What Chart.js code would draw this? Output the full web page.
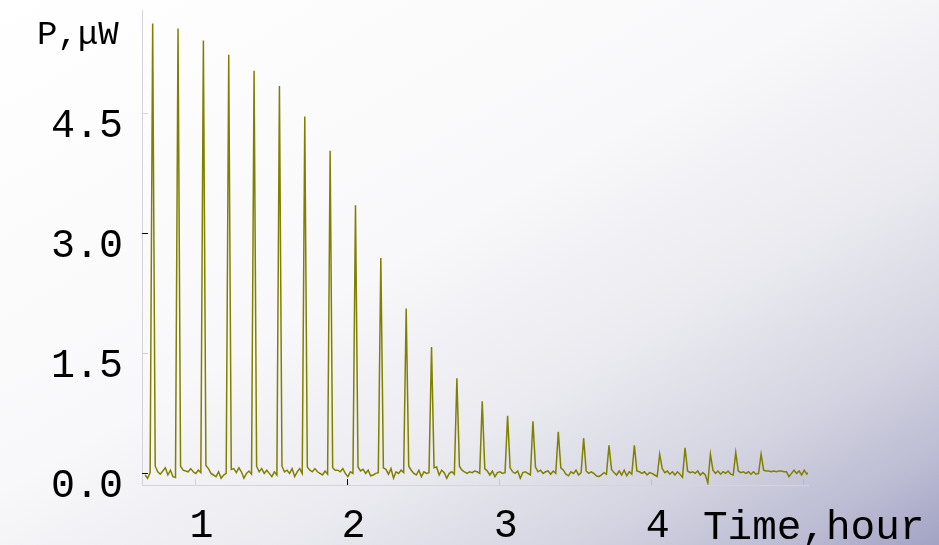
<!DOCTYPE html>
<html>
<head>
<meta charset="utf-8">
<script src="https://cdn.jsdelivr.net/npm/chart.js@4"></script>
<style>
  html, body { margin: 0; padding: 0; background: #ffffff; }
  canvas { display: block; }
</style>
</head>
<body>
<canvas id="chart" width="939" height="545"></canvas>
<script>
// Output power of the cell, one sample per minute, the first one at minute 40.3.
const firstSampleMinute = 40.3;

const power040to099 = [
  -0.02, -0.06, 0.01, 5.62, 0.09, 0.02, -0.01, 0.03, 0.07, -0.02,
  0.04, -0.04, -0.05, 5.56, 0.09, 0.04, 0.03, 0.02, 0.06, 0.02,
  0.00, 0.04, 0.01, 5.41, 0.10, 0.06, 0.00, -0.02, -0.04, 0.02,
  -0.06, -0.02, 0.00, 5.23, 0.05, 0.06, 0.01, 0.07, 0.02, -0.06,
  0.00, 0.03, -0.01, 5.03, 0.09, 0.02, 0.06, 0.00, 0.04, 0.00,
  -0.04, 0.02, -0.02, 4.84, 0.09, 0.02, 0.04, 0.00, 0.06, -0.04
];
const power100to159 = [
  0.02, 0.06, 0.00, 4.46, 0.08, 0.04, 0.02, 0.06, 0.02, 0.00,
  -0.02, 0.03, -0.01, 4.03, 0.07, 0.04, 0.04, 0.02, 0.06, 0.00,
  -0.04, 0.02, 0.00, 3.35, 0.08, 0.03, 0.05, 0.00, 0.04, -0.03,
  -0.02, 0.00, 0.01, 2.69, 0.07, 0.05, -0.01, 0.06, -0.06, 0.02,
  0.00, 0.04, 0.01, 2.06, 0.09, 0.04, 0.00, -0.02, 0.04, -0.04,
  0.02, 0.00, 0.01, 1.58, 0.07, 0.08, -0.02, 0.04, 0.01, -0.06
];
const power160to219 = [
  0.00, 0.02, -0.01, 1.19, 0.09, 0.04, 0.02, 0.00, 0.02, 0.01,
  0.03, 0.02, 0.00, 0.90, 0.06, 0.03, -0.02, 0.03, -0.04, 0.01,
  0.02, 0.00, 0.01, 0.72, 0.07, 0.02, 0.00, 0.03, -0.06, 0.01,
  0.02, 0.00, -0.02, 0.65, 0.08, 0.02, 0.04, 0.00, 0.02, 0.03,
  -0.01, 0.03, 0.00, 0.52, 0.07, 0.04, -0.01, -0.03, 0.02, 0.00,
  0.04, -0.02, 0.01, 0.44, 0.03, 0.00, 0.02, 0.00, -0.03, -0.04
];
const power220to279 = [
  -0.02, 0.01, -0.01, 0.35, 0.05, 0.01, -0.02, 0.03, -0.02, 0.04,
  -0.03, 0.02, -0.01, 0.35, 0.03, 0.02, 0.00, 0.02, -0.02, 0.01,
  0.00, -0.02, -0.04, 0.24, 0.06, 0.01, 0.03, -0.01, 0.02, -0.02,
  0.02, -0.01, -0.05, 0.32, 0.03, 0.01, 0.02, 0.00, 0.03, -0.02,
  0.01, -0.02, -0.12, 0.24, 0.04, 0.00, 0.03, -0.01, 0.02, 0.00,
  0.03, -0.01, -0.02, 0.26, 0.03, 0.01, 0.02, 0.00, 0.02, -0.01
];
const power280to302 = [
  0.02, -0.01, 0.00, 0.24, 0.04, 0.03, 0.03, 0.02, 0.03, 0.02,
  0.03, 0.03, 0.02, 0.02, -0.04, 0.00, 0.04, 0.00, 0.03, -0.02,
  0.04, -0.01, 0.02
];

const yTickValues = [0, 1.5, 3.0, 4.5];
const xTickValues = [1, 2, 3, 4];
const xTickMarkValues = [1, 2, 3, 4, 5];
const yAxisTitle = 'P,\u03bcW';
const xAxisTitle = 'Time,hour';

const powerSeries = [].concat(power040to099, power100to159, power160to219, power220to279, power280to302);
const points = powerSeries.map((p, i) => ({ x: (firstSampleMinute + i) / 60, y: p }));

const FONT = '"Liberation Mono", "Courier New", monospace';
Chart.defaults.font.family = FONT;

// Soft white-to-lavender backdrop
const backdrop = {
  id: 'backdrop',
  beforeDraw(chart) {
    const { ctx, width, height } = chart;
    const g = ctx.createLinearGradient(0, 0, 473, 815);
    g.addColorStop(0.00, '#ffffff');
    g.addColorStop(0.45, '#f8f8fa');
    g.addColorStop(0.65, '#eaeaf0');
    g.addColorStop(0.80, '#d5d5e2');
    g.addColorStop(0.92, '#bbbbd3');
    g.addColorStop(1.00, '#a2a2c4');
    ctx.save();
    ctx.fillStyle = g;
    ctx.fillRect(0, 0, width, height);
    ctx.restore();
  }
};

// Inward tick marks and the two axis captions
const axisDecor = {
  id: 'axisDecor',
  afterDraw(chart) {
    const { ctx, chartArea, scales: { x, y } } = chart;
    const yShade = { 0: '#000000', 1.5: '#d2d2d6', 3: '#000000', 4.5: '#d8d8dc' };
    const xShade = { 1: '#d0d0d6', 2: '#000000', 3: '#c8c8d0', 4: '#c0c0cc', 5: '#b8b8c8' };
    ctx.save();
    ctx.lineWidth = 1;
    yTickValues.forEach(v => {
      const py = Math.floor(y.getPixelForValue(v)) + 0.5;
      ctx.strokeStyle = yShade[v];
      ctx.beginPath();
      ctx.moveTo(chartArea.left, py);
      ctx.lineTo(chartArea.left + 6, py);
      ctx.stroke();
    });
    xTickMarkValues.forEach(v => {
      const px = Math.floor(x.getPixelForValue(v)) + 0.5;
      ctx.strokeStyle = xShade[v];
      ctx.beginPath();
      ctx.moveTo(px, chartArea.bottom);
      ctx.lineTo(px, chartArea.bottom - 6);
      ctx.stroke();
    });
    ctx.fillStyle = '#000000';
    ctx.textBaseline = 'alphabetic';
    ctx.textAlign = 'left';
    ctx.font = '34px ' + FONT;
    ctx.fillText(yAxisTitle, 37, 43.5);
    ctx.font = '41px ' + FONT;
    ctx.fillText(xAxisTitle, 703, 538.5);
    ctx.restore();
  }
};

new Chart(document.getElementById('chart'), {
  type: 'line',
  data: {
    datasets: [{
      data: points,
      borderColor: '#808000',
      borderWidth: 1.5,
      pointRadius: 0,
      tension: 0,
      fill: false
    }]
  },
  options: {
    responsive: false,
    animation: false,
    events: [],
    layout: { padding: { top: 10, right: 131, left: 0, bottom: 0 } },
    plugins: { legend: { display: false }, tooltip: { enabled: false } },
    scales: {
      x: {
        type: 'linear',
        min: 0.6515,
        max: 5.03,
        afterBuildTicks: s => { s.ticks = xTickValues.map(v => ({ value: v })); },
        afterFit: s => { s.height = 60; s.paddingLeft = 0; s.paddingRight = 0; },
        grid: { display: false, drawTicks: false },
        border: { display: true, color: '#d4d4da', width: 1 },
        ticks: {
          padding: 21,
          labelOffset: 6.5,
          maxRotation: 0,
          autoSkip: false,
          color: '#000000',
          font: { size: 40, lineHeight: 1 },
          callback: v => String(v)
        }
      },
      y: {
        type: 'linear',
        min: -0.145,
        max: 5.79,
        afterBuildTicks: s => { s.ticks = yTickValues.map(v => ({ value: v })); },
        afterFit: s => { s.width = 142; s.paddingTop = 0; s.paddingBottom = 0; },
        grid: { display: false, drawTicks: false },
        border: { display: true, color: '#d4d4da', width: 1 },
        ticks: {
          padding: 19,
          labelOffset: 13.5,
          autoSkip: false,
          color: '#000000',
          font: { size: 40, lineHeight: 1 },
          callback: v => v.toFixed(1)
        }
      }
    }
  },
  plugins: [backdrop, axisDecor]
});
</script>
</body>
</html>
